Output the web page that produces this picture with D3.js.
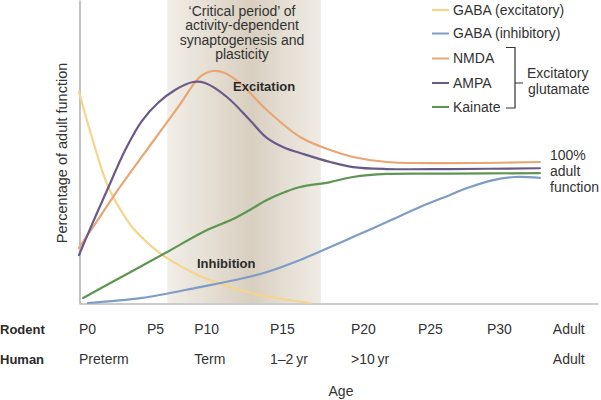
<!DOCTYPE html>
<html>
<head>
<meta charset="utf-8">
<script src="https://cdn.jsdelivr.net/npm/d3@7"></script>
<style>
  body { margin: 0; background: #fff; }
  svg { display: block; font-family: "Liberation Sans", Arial, sans-serif; }
</style>
</head>
<body>
<svg id="chart" width="601" height="400"></svg>
<script>
// ---------- data ----------
// x: developmental stage (0 = P0 ... 100 = end of axis); y: % of adult function
const gabaExcitatory = [[0,158.8],[2.7,121.9],[5.4,89.5],[7.9,70.7],[10.4,56.4],[13.7,43.6],[16.9,33.9],[23.3,20.3],[29.7,11.3],[36.8,4.5],[44.5,0]];
const gabaInhibitory = [[1.7,0],[12.1,3.8],[23.3,12.0],[30.1,17.3],[36.2,23.3],[42.6,32.4],[48.4,42.1],[54.1,51.9],[59.3,60.9],[65.7,72.2],[71.5,81.3],[74.8,86.5],[79.8,92.5],[84.0,94.8],[88.8,94.1]];
const nmda = [[0,41.4],[4.0,64.7],[7.9,87.3],[11.8,108.4],[15.6,128.7],[19.5,149.7],[23.3,170.1],[25.8,174.6],[28.1,173.1],[31.0,165.5],[36.2,145.2],[42.6,124.9],[48.4,115.1],[52.8,109.9],[59.3,106.1],[71.5,105.3],[88.8,106.1]];
const ampa = [[0,36.1],[2.7,60.9],[5.6,86.5],[8.9,115.1],[12.1,136.9],[15.2,150.5],[18.5,160.3],[22.0,166.3],[24.3,165.5],[28.5,155.0],[32.9,137.7],[36.2,124.2],[39.7,116.6],[42.6,112.9],[48.4,106.1],[52.8,102.3],[59.3,100.8],[71.5,100.8],[88.8,101.4]];
const kainate = [[0.8,3.8],[8.9,21.1],[17.0,38.4],[24.3,54.2],[29.7,63.2],[32.9,70.0],[36.2,77.5],[39.7,83.5],[42.6,87.3],[48.4,91.0],[52.8,94.8],[59.3,97.1],[71.5,97.3],[88.8,97.8]];

const seriesNames = ["GABA (excitatory)", "GABA (inhibitory)", "NMDA", "AMPA", "Kainate"];
const seriesColors = ["#f6d48a", "#7f9cc6", "#eaa672", "#6a5a88", "#5e9552"];
const seriesData = [gabaExcitatory, gabaInhibitory, nmda, ampa, kainate];

const tickPositions = [0, 13.1, 22.2, 36.8, 52.4, 65.3, 78.6, 91.3];
const rodentLabels = ["P0", "P5", "P10", "P15", "P20", "P25", "P30", "Adult"];
const humanLabels = ["Preterm", "", "Term", "1\u20132\u2009yr", ">10\u2009yr", "", "", "Adult"];
const criticalPeriod = [17.0, 46.6];
const titleLines = ["\u2018Critical period\u2019 of", "activity-dependent", "synaptogenesis and", "plasticity"];
const adultLabelLines = ["100%", "adult", "function"];

// ---------- chart ----------
const svg = d3.select("#chart");
const x = d3.scaleLinear().domain([0, 100]).range([79, 598]);
const y = d3.scaleLinear().domain([0, 228]).range([303, 0]);

// gradient for critical period
const defs = svg.append("defs");
const grad = defs.append("linearGradient").attr("id", "cp").attr("x1", "0").attr("x2", "1").attr("y1", "0").attr("y2", "0");
grad.append("stop").attr("offset", "0%").attr("stop-color", "#f1eee8");
grad.append("stop").attr("offset", "30%").attr("stop-color", "#e4ddd1");
grad.append("stop").attr("offset", "55%").attr("stop-color", "#d8cfc0");
grad.append("stop").attr("offset", "80%").attr("stop-color", "#e6e0d6");
grad.append("stop").attr("offset", "100%").attr("stop-color", "#efebe4");

svg.append("rect")
  .attr("x", x(criticalPeriod[0]))
  .attr("y", y(228))
  .attr("width", x(criticalPeriod[1]) - x(criticalPeriod[0]))
  .attr("height", y(0) - y(228))
  .attr("fill", "url(#cp)");

// title in shading
const cx = (x(criticalPeriod[0]) + x(criticalPeriod[1])) / 2;
svg.append("g").selectAll("text").data(titleLines).join("text")
  .attr("x", cx - 2)
  .attr("y", (d, i) => 11 + i * 14.5)
  .attr("dy", "0.35em")
  .attr("text-anchor", "middle")
  .attr("font-size", 14)
  .attr("fill", "#333")
  .text(d => d);

// axes
const xAxis = svg.append("g").attr("transform", `translate(0,${y(0) + 0.5})`)
  .call(d3.axisBottom(x).tickValues([]).tickSizeOuter(0));
const yAxis = svg.append("g").attr("transform", `translate(${x(0) + 0.5},0)`)
  .call(d3.axisLeft(y).tickValues([]).tickSizeOuter(0));
[xAxis, yAxis].forEach(a => a.select(".domain").attr("stroke", "#9a9a9a").attr("stroke-width", 1.2));

// lines
const line = d3.line().x(d => x(d[0])).y(d => y(d[1])).curve(d3.curveCatmullRom.alpha(0.5));
const drawOrder = [0, 1, 4, 2, 3];
svg.append("g").selectAll("path").data(drawOrder).join("path")
  .attr("d", i => line(seriesData[i]))
  .attr("fill", "none")
  .attr("stroke", i => seriesColors[i])
  .attr("stroke-width", 2.2)
  .attr("stroke-linecap", "round");

// in-plot labels
svg.append("text").attr("x", 233).attr("y", 86).attr("dy", "0.35em")
  .attr("font-size", 13).attr("font-weight", "bold").attr("fill", "#2b2b2b").text("Excitation");
svg.append("text").attr("x", 197).attr("y", 263).attr("dy", "0.35em")
  .attr("font-size", 13).attr("font-weight", "bold").attr("fill", "#2b2b2b").text("Inhibition");

svg.append("g").selectAll("text").data(adultLabelLines).join("text")
  .attr("x", 550)
  .attr("y", (d, i) => 155 + i * 16)
  .attr("dy", "0.35em")
  .attr("font-size", 14)
  .attr("fill", "#333")
  .text(d => d);

// y label
svg.append("text")
  .attr("transform", `translate(62,153) rotate(-90)`)
  .attr("dy", "0.35em")
  .attr("text-anchor", "middle")
  .attr("font-size", 14.5)
  .attr("fill", "#333")
  .text("Percentage of adult function");

// x tick rows
svg.append("text").attr("x", 0).attr("y", 329).attr("dy", "0.35em")
  .attr("font-size", 13).attr("font-weight", "bold").attr("fill", "#2b2b2b").text("Rodent");
svg.append("text").attr("x", 0).attr("y", 359).attr("dy", "0.35em")
  .attr("font-size", 13).attr("font-weight", "bold").attr("fill", "#2b2b2b").text("Human");

svg.append("g").selectAll("text").data(rodentLabels).join("text")
  .attr("x", (d, i) => x(tickPositions[i]))
  .attr("y", 329).attr("dy", "0.35em")
  .attr("font-size", 14).attr("fill", "#333")
  .text(d => d);
svg.append("g").selectAll("text").data(humanLabels).join("text")
  .attr("x", (d, i) => x(tickPositions[i]))
  .attr("y", 359).attr("dy", "0.35em")
  .attr("font-size", 14).attr("fill", "#333")
  .text(d => d);

svg.append("text").attr("x", 341).attr("y", 391).attr("dy", "0.35em")
  .attr("text-anchor", "middle").attr("font-size", 14).attr("fill", "#333").text("Age");

// legend
const legendY = [10, 33.5, 58.5, 83, 107];
const lg = svg.append("g");
seriesNames.forEach((name, i) => {
  lg.append("line").attr("x1", 432).attr("x2", 449).attr("y1", legendY[i]).attr("y2", legendY[i])
    .attr("stroke", seriesColors[i]).attr("stroke-width", 2);
  lg.append("text").attr("x", 453).attr("y", legendY[i]).attr("dy", "0.35em")
    .attr("font-size", 14).attr("fill", "#333").text(name);
});
// bracket
lg.append("path")
  .attr("d", `M506,${legendY[2] - 11}H515V${legendY[4] + 1}H506M515,${legendY[3]}H523`)
  .attr("fill", "none").attr("stroke", "#333").attr("stroke-width", 1.2);
lg.append("text").attr("x", 527).attr("y", 73).attr("dy", "0.35em")
  .attr("font-size", 14).attr("fill", "#333").text("Excitatory");
lg.append("text").attr("x", 528).attr("y", 89).attr("dy", "0.35em")
  .attr("font-size", 14).attr("fill", "#333").text("glutamate");
</script>
</body>
</html>
